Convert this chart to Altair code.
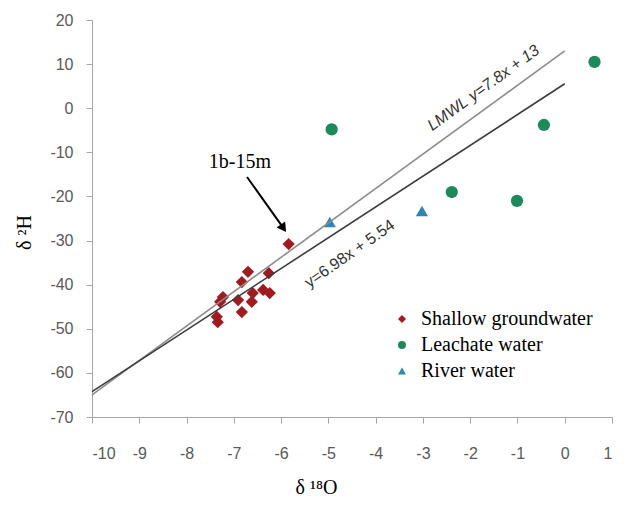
import altair as alt
import pandas as pd

# ---- data ----
sg_x = [-5.84, -6.26, -6.83, -6.70, -7.23, -7.29, -6.91, -6.60, -6.38, -6.24, -6.62, -6.83, -7.36, -7.34]
sg_y = [-30.8, -37.4, -39.4, -37.1, -42.8, -43.9, -43.5, -41.9, -41.2, -41.9, -43.9, -46.2, -47.3, -48.5]
lw_x = [-4.93, -2.39, -1.01, -0.44, 0.63]
lw_y = [-4.8, -19.0, -21.0, -3.8, 10.5]
rw_x = [-4.97, -3.02]
rw_y = [-25.8, -23.3]

series_names = ["Shallow groundwater", "Leachate water", "River water"]
series_colors = ["#9e1b20", "#1e8a5c", "#2f86b4"]
series_shapes = ["diamond", "circle", "triangle-up"]

line_x = [-10, 0]
lmwl_y = [-65.0, 13.0]
fit_y = [-64.26, 5.54]

x_ticks = list(range(-10, 2))
y_ticks = list(range(-70, 30, 10))

lmwl_label = "LMWL y=7.8x + 13"
lmwl_label_pos = [-1.72, 4.6]
fit_label = "y=6.98x + 5.54"
fit_label_pos = [-4.55, -33.0]

ann_text = "1b-15m"
ann_text_pos = [-6.87, -12.2]
arrow_start = [-6.72, -15.6]
arrow_head = [-5.95, -27.2]

# ---- tables ----
pts = pd.DataFrame(
    [{"x": a, "y": b, "series": series_names[0]} for a, b in zip(sg_x, sg_y)]
    + [{"x": a, "y": b, "series": series_names[1]} for a, b in zip(lw_x, lw_y)]
    + [{"x": a, "y": b, "series": series_names[2]} for a, b in zip(rw_x, rw_y)]
)
lines = pd.DataFrame(
    [{"x": a, "y": b, "line": "LMWL"} for a, b in zip(line_x, lmwl_y)]
    + [{"x": a, "y": b, "line": "fit"} for a, b in zip(line_x, fit_y)]
)

xs = alt.Scale(domain=[-10, 1], nice=False, zero=False)
ys = alt.Scale(domain=[-70, 20], nice=False, zero=False)

x_axis = alt.Axis(
    values=x_ticks, title="δ ¹⁸O", grid=False, labelExpr="'' + datum.value",
    labelFont="Liberation Sans", labelFontSize=16, labelColor="#595959",
    domainColor="#a6a6a6", tickColor="#a6a6a6", tickSize=6, labelPadding=22,
    titleFont="Liberation Serif", titleFontSize=20, titleFontWeight="normal", titleColor="#000000",
    titleX=224, titleY=76, titleBaseline="alphabetic", titleAnchor="start", titleAlign="center",
)
y_axis = alt.Axis(
    values=y_ticks, title="δ ²H", grid=False, labelExpr="'' + datum.value",
    labelFont="Liberation Sans", labelFontSize=16, labelColor="#595959",
    domainColor="#a6a6a6", tickColor="#a6a6a6", tickSize=6, labelPadding=13,
    titleFont="Liberation Serif", titleFontSize=20, titleFontWeight="normal", titleColor="#000000",
    titleX=-68, titleY=212, titleAngle=270, titleAlign="center", titleBaseline="middle",
)

legend = alt.Legend(
    title=None, orient="none", legendX=300, legendY=289, padding=0,
    labelFont="Liberation Serif", labelFontSize=20, labelColor="#000000", labelLimit=300,
    symbolSize=64, symbolStrokeWidth=0, rowPadding=6, labelOffset=9,
)

points = alt.Chart(pts).mark_point(filled=True, opacity=1, size=150, strokeWidth=0).encode(
    x=alt.X("x:Q", scale=xs, axis=x_axis),
    y=alt.Y("y:Q", scale=ys, axis=y_axis),
    color=alt.Color("series:N", scale=alt.Scale(domain=series_names, range=series_colors), legend=legend),
    shape=alt.Shape("series:N", scale=alt.Scale(domain=series_names, range=series_shapes), legend=legend),
)

line_lmwl = alt.Chart(lines[lines["line"] == "LMWL"]).mark_line(color="#8c8c8c", strokeWidth=1.6).encode(
    x=alt.X("x:Q", scale=xs), y=alt.Y("y:Q", scale=ys)
)
line_fit = alt.Chart(lines[lines["line"] == "fit"]).mark_line(color="#3c3c3c", strokeWidth=1.6).encode(
    x=alt.X("x:Q", scale=xs), y=alt.Y("y:Q", scale=ys)
)

lab1 = alt.Chart(pd.DataFrame([{"x": lmwl_label_pos[0], "y": lmwl_label_pos[1], "t": lmwl_label}])).mark_text(
    angle=324, font="Liberation Sans", fontSize=16, fontStyle="italic", color="#333333", align="center", baseline="middle"
).encode(x=alt.X("x:Q", scale=xs), y=alt.Y("y:Q", scale=ys), text="t:N")
lab2 = alt.Chart(pd.DataFrame([{"x": fit_label_pos[0], "y": fit_label_pos[1], "t": fit_label}])).mark_text(
    angle=325, font="Liberation Sans", fontSize=16, color="#333333", align="center", baseline="middle"
).encode(x=alt.X("x:Q", scale=xs), y=alt.Y("y:Q", scale=ys), text="t:N")

ann = alt.Chart(pd.DataFrame([{"x": ann_text_pos[0], "y": ann_text_pos[1], "t": ann_text}])).mark_text(
    font="Liberation Serif", fontSize=20, color="#000000", align="center", baseline="middle"
).encode(x=alt.X("x:Q", scale=xs), y=alt.Y("y:Q", scale=ys), text="t:N")

arrow_df = pd.DataFrame([{"x": arrow_start[0], "y": arrow_start[1], "x2": arrow_head[0], "y2": arrow_head[1]}])
arrow_line = alt.Chart(arrow_df).mark_rule(color="#000000", strokeWidth=2).encode(
    x=alt.X("x:Q", scale=xs), y=alt.Y("y:Q", scale=ys), x2="x2:Q", y2="y2:Q"
)
arrow_tip = alt.Chart(pd.DataFrame([{"x": arrow_head[0], "y": arrow_head[1]}])).mark_point(
    shape="triangle-up", filled=True, size=110, color="#000000", opacity=1, angle=145
).encode(x=alt.X("x:Q", scale=xs), y=alt.Y("y:Q", scale=ys))

chart = alt.layer(points, line_lmwl, line_fit, lab1, lab2, arrow_line, arrow_tip, ann).properties(
    width=520, height=397,
    autosize=alt.AutoSizeParams(type="none"),
    padding={"left": 84, "top": 12, "right": 13, "bottom": 81},
    background="#ffffff",
).configure_view(stroke=None)

chart.save("out.html", embed_options={"renderer": "svg", "actions": False})
